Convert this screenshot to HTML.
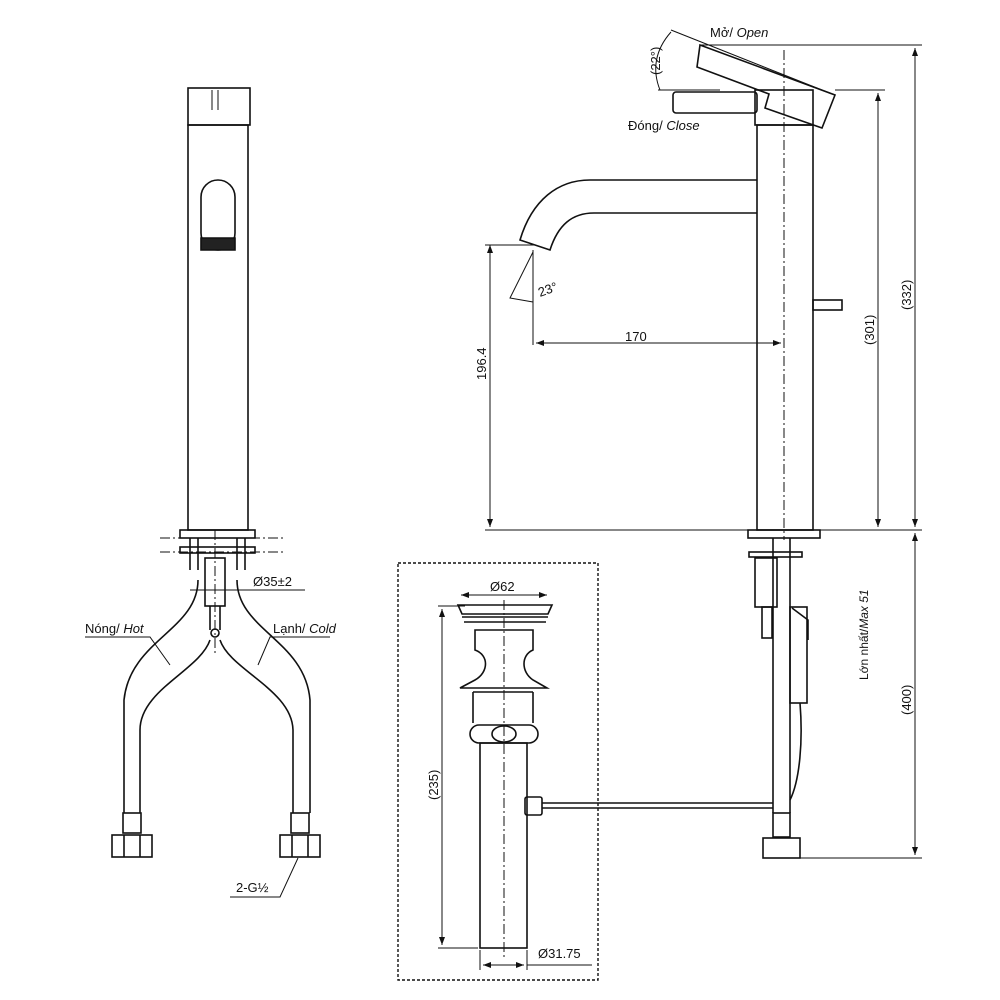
<!DOCTYPE html>
<html><head><style>body{margin:0;background:#fff}svg{display:block}text{font-family:"Liberation Sans","DejaVu Sans",sans-serif;fill:#111}</style></head><body>
<svg width="1000" height="1000" viewBox="0 0 1000 1000" xmlns="http://www.w3.org/2000/svg">
<defs><marker id="a" markerWidth="8" markerHeight="6" refX="8" refY="3" orient="auto-start-reverse"><path d="M0,0L8,3L0,6z" fill="#111"/></marker></defs>
<g fill="none" stroke="#111" stroke-width="1.6">
<!-- LEFT FAUCET -->
<rect x="188" y="88" width="62" height="37"/>
<path d="M212 90V110M218 90V110" stroke-width="1"/>
<rect x="188" y="125" width="60" height="405"/>
<rect x="201" y="180" width="34" height="70" rx="17"/>
<path d="M201 238 L235 238 L235 250 L201 250z" fill="#222"/>
<rect x="180" y="530" width="75" height="8"/>
<rect x="180" y="547" width="75" height="6"/>
<path d="M190 538V570M198 538V570M237 538V570M245 538V570"/>
<rect x="205" y="558" width="20" height="48"/>
<path d="M210 606V630M220 606V630"/>
<circle cx="215" cy="633" r="4"/>
<path d="M215 530V655" stroke-dasharray="10,3,2,3" stroke-width="1"/>
<path d="M160 538H285M160 552H285" stroke-dasharray="10,3,2,3" stroke-width="1"/>
<path d="M198 580 C198 630 130 640 124 700 V813"/>
<path d="M210 640 C200 670 140 690 140 730 V813"/>
<path d="M237 580 C237 630 305 640 310 700 V813"/>
<path d="M220 640 C230 670 292 690 293 730 V813"/>
<rect x="123" y="813" width="18" height="20"/>
<rect x="112" y="835" width="40" height="22"/>
<path d="M124 835V857M140 835V857"/>
<rect x="291" y="813" width="18" height="20"/>
<rect x="280" y="835" width="40" height="22"/>
<path d="M292 835V857M308 835V857"/>
<path d="M85 637H150L170 665" stroke-width="1"/>
<path d="M330 637H270L258 665" stroke-width="1"/>
<path d="M190 590H305" stroke-width="1"/>
<path d="M230 897H280L298 858" stroke-width="1"/>
<!-- RIGHT FAUCET -->
<rect x="757" y="125" width="56" height="405"/>
<rect x="755" y="90" width="58" height="35"/>
<rect x="673" y="92" width="84" height="21" rx="3"/>
<path d="M700 45 L835 95 L822 128 L765 108 L769 94 L697 67 Z"/>
<path d="M671 30 L832 94" stroke-width="1"/>
<path d="M784 50V540" stroke-dasharray="10,3,2,3" stroke-width="1"/>
<path d="M757 180 H590 C558 180 532 200 520 240 L550 250 C558 225 572 213 594 213 H757"/>
<rect x="813" y="300" width="29" height="10"/>
<rect x="748" y="530" width="72" height="8"/>
<rect x="749" y="552" width="53" height="5"/>
<rect x="755" y="558" width="22" height="49"/>
<rect x="762" y="607" width="10" height="31"/>
<path d="M773 538V813M790 538V813"/>
<rect x="790" y="607" width="17" height="96"/>
<path d="M792 608L808 620V640"/>
<path d="M800 703 C803 740 800 780 790 800"/>
<rect x="773" y="813" width="17" height="24"/>
<rect x="763" y="838" width="37" height="20"/>
<path d="M542 803H773M542 808H773"/>
<rect x="525" y="797" width="17" height="18" rx="2"/>
<!-- dimensions right -->
<path d="M700 45H922M835 90H885M485 530H922M800 858H922" stroke-width="1"/>
<path d="M915 48V527" stroke-width="1" marker-start="url(#a)" marker-end="url(#a)"/>
<path d="M878 93V527" stroke-width="1" marker-start="url(#a)" marker-end="url(#a)"/>
<path d="M915 533V855" stroke-width="1" marker-start="url(#a)" marker-end="url(#a)"/>
<path d="M490 245V527" stroke-width="1" marker-start="url(#a)" marker-end="url(#a)"/>
<path d="M485 245H535" stroke-width="1"/>
<path d="M533 250V345" stroke-width="1"/>
<path d="M536 343H781" stroke-width="1" marker-start="url(#a)" marker-end="url(#a)"/>
<path d="M533 252L510 298L533 302" stroke-width="1"/>
<path d="M671 32 C655 50 652 70 660 90" stroke-width="1"/>
<path d="M658 90H720" stroke-width="1"/>
<!-- DRAIN -->
<rect x="398" y="563" width="200" height="417" stroke-dasharray="3,2" stroke-width="1.4"/>
<path d="M458 605 H552 L548 614 H462Z"/>
<path d="M462 617H548M464 622H546"/>
<path d="M475 630 V650 C489 655 489 672 475 680 L460 688 H547 L533 680 C521 672 521 655 533 650 V630Z"/>
<path d="M473 692V723M533 692V723M473 692H533"/>
<rect x="470" y="725" width="68" height="18" rx="9"/>
<ellipse cx="504" cy="734" rx="12" ry="8"/>
<rect x="480" y="743" width="47" height="205"/>
<path d="M504 600V960" stroke-dasharray="10,3,2,3" stroke-width="1"/>
<path d="M461 595H547" stroke-width="1" marker-start="url(#a)" marker-end="url(#a)"/>
<path d="M438 606H465M438 948H478" stroke-width="1"/>
<path d="M442 609V945" stroke-width="1" marker-start="url(#a)" marker-end="url(#a)"/>
<path d="M480 950V970M527 950V970" stroke-width="1"/>
<path d="M483 965H524" stroke-width="1" marker-start="url(#a)" marker-end="url(#a)"/>
<path d="M527 965H592" stroke-width="1"/>
</g>
<g font-size="13">
<text x="85" y="633">Nóng/ <tspan font-style="italic">Hot</tspan></text>
<text x="273" y="633">Lạnh/ <tspan font-style="italic">Cold</tspan></text>
<text x="253" y="586">Ø35±2</text>
<text x="236" y="892">2-G½</text>
<text x="710" y="37">Mở/ <tspan font-style="italic">Open</tspan></text>
<text x="628" y="130">Đóng/ <tspan font-style="italic">Close</tspan></text>
<text x="625" y="341">170</text>
<text x="540" y="297" transform="rotate(-20 540 297)">23°</text>
<text transform="translate(660 75) rotate(-90)">(22°)</text>
<text transform="translate(486 380) rotate(-90)">196.4</text>
<text transform="translate(874 345) rotate(-90)">(301)</text>
<text transform="translate(911 310) rotate(-90)">(332)</text>
<text transform="translate(911 715) rotate(-90)">(400)</text>
<text transform="translate(868 680) rotate(-90)" font-size="12">Lớn nhất/<tspan font-style="italic">Max 51</tspan></text>
<text x="490" y="591">Ø62</text>
<text transform="translate(438 800) rotate(-90)">(235)</text>
<text x="538" y="958">Ø31.75</text>
</g>
</svg>
</body></html>
